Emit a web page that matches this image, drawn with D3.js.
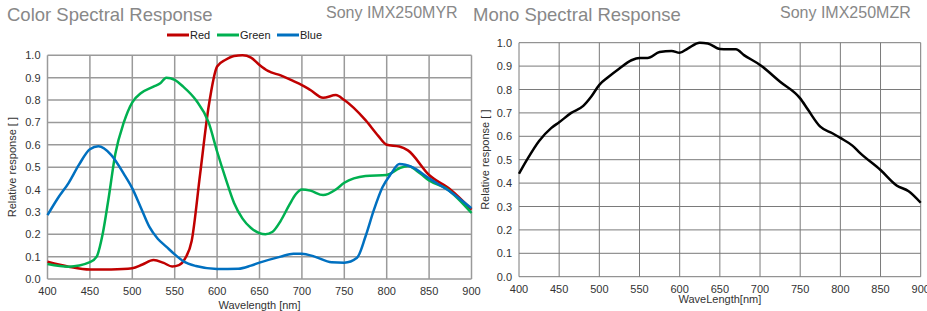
<!DOCTYPE html>
<html>
<head>
<meta charset="utf-8">
<script src="https://cdn.jsdelivr.net/npm/d3@7"></script>
<style>
  body { margin: 0; background: #fff; }
  svg { display: block; font-family: "Liberation Sans", Arial, sans-serif; }
</style>
</head>
<body>
<svg id="chart" width="927" height="311"></svg>
<script>
// wavelength ticks and response ticks
var xTicks = [400, 450, 500, 550, 600, 650, 700, 750, 800, 850, 900];
var yTicks = [0, 0.1, 0.2, 0.3, 0.4, 0.5, 0.6, 0.7, 0.8, 0.9, 1.0];

// color sensor (IMX250MYR)
var redData = [[400,0.077],[425,0.055],[450,0.042],[475,0.043],[500,0.048],[512,0.065],[525,0.085],[537,0.072],[547,0.056],[555,0.062],[562,0.09],[570,0.17],[580,0.47],[590,0.77],[600,0.95],[610,0.98],[620,0.997],[630,1.0],[640,0.99],[650,0.957],[660,0.93],[675,0.91],[690,0.885],[700,0.867],[710,0.845],[725,0.81],[740,0.822],[750,0.8],[775,0.71],[790,0.64],[800,0.6],[815,0.592],[825,0.575],[850,0.465],[875,0.4],[900,0.31]];
var greenData = [[400,0.067],[425,0.055],[450,0.075],[458,0.1],[465,0.2],[472,0.36],[480,0.56],[490,0.7],[500,0.79],[510,0.83],[525,0.86],[533,0.875],[540,0.9],[550,0.89],[560,0.86],[575,0.8],[590,0.7],[600,0.57],[610,0.45],[620,0.34],[630,0.27],[640,0.228],[650,0.205],[657,0.2],[665,0.21],[675,0.26],[685,0.33],[693,0.38],[700,0.4],[710,0.395],[725,0.375],[740,0.4],[750,0.43],[775,0.46],[800,0.465],[815,0.495],[825,0.505],[840,0.47],[850,0.44],[870,0.405],[900,0.295]];
var blueData = [[400,0.286],[412,0.36],[425,0.43],[437,0.51],[450,0.58],[460,0.593],[475,0.555],[490,0.47],[500,0.405],[510,0.32],[520,0.234],[530,0.18],[540,0.145],[550,0.11],[560,0.08],[575,0.058],[600,0.045],[625,0.046],[640,0.06],[650,0.073],[675,0.1],[690,0.113],[700,0.113],[715,0.1],[735,0.075],[750,0.073],[765,0.095],[775,0.19],[785,0.31],[795,0.41],[805,0.47],[815,0.514],[830,0.5],[850,0.45],[875,0.39],[900,0.316]];

// mono sensor (IMX250MZR)
var monoData = [[400,0.44],[410,0.5],[425,0.58],[440,0.635],[450,0.66],[465,0.7],[480,0.73],[490,0.77],[500,0.82],[510,0.85],[525,0.89],[540,0.925],[550,0.935],[560,0.935],[575,0.96],[590,0.965],[600,0.957],[610,0.975],[625,1.0],[635,0.997],[650,0.973],[660,0.972],[670,0.972],[680,0.947],[700,0.905],[725,0.833],[750,0.762],[760,0.712],[775,0.641],[790,0.613],[800,0.593],[815,0.56],[825,0.527],[850,0.456],[870,0.39],[885,0.365],[900,0.316]];

var seriesNames = ['Red', 'Green', 'Blue'];
var seriesColors = ['#c00000', '#00b050', '#0070c0'];

var svg = d3.select('#chart');

function drawPanel(opt) {
    var x = d3.scaleLinear().domain([400, 900]).range([opt.left, opt.right]);
    var y = d3.scaleLinear().domain([0, 1]).range([opt.bottom, opt.top]);
    var g = svg.append('g');

    g.selectAll('.vgrid').data(xTicks).enter().append('line')
        .attr('x1', function (d) { return x(d); }).attr('x2', function (d) { return x(d); })
        .attr('y1', y(0)).attr('y2', y(1))
        .attr('stroke', opt.gridColor).attr('stroke-width', opt.gridWidth);
    g.selectAll('.hgrid').data(yTicks).enter().append('line')
        .attr('y1', function (d) { return y(d); }).attr('y2', function (d) { return y(d); })
        .attr('x1', x(400)).attr('x2', x(900))
        .attr('stroke', opt.gridColor).attr('stroke-width', opt.gridWidth);

    g.selectAll('.ylab').data(yTicks).enter().append('text')
        .attr('x', x(400) - 7).attr('y', function (d) { return y(d) + 4; })
        .attr('text-anchor', 'end').attr('font-size', 11).attr('fill', '#333')
        .text(function (d) { return d.toFixed(1); });
    g.selectAll('.xlab').data(xTicks).enter().append('text')
        .attr('x', function (d) { return x(d); }).attr('y', y(0) + opt.xlabOff)
        .attr('text-anchor', 'middle').attr('font-size', 11).attr('fill', '#333')
        .text(function (d) { return d; });

    g.append('text')
        .attr('transform', 'translate(' + opt.yTitleX + ',' + ((y(0) + y(1)) / 2) + ') rotate(-90)')
        .attr('text-anchor', 'middle').attr('font-size', 11).attr('fill', '#333')
        .text('Relative response [ ]');
    g.append('text')
        .attr('x', (x(400) + x(900)) / 2).attr('y', opt.xTitleY)
        .attr('text-anchor', 'middle').attr('font-size', 11).attr('fill', '#333')
        .text(opt.xTitle);

    svg.append('text').attr('x', opt.titleX).attr('y', 21)
        .attr('font-size', 18.5).attr('fill', '#888').text(opt.title);
    svg.append('text').attr('x', opt.subX).attr('y', 18)
        .attr('font-size', 16).attr('fill', '#888').text(opt.sub);

    var line = d3.line()
        .x(function (d) { return x(d[0]); })
        .y(function (d) { return y(d[1]); })
        .curve(d3.curveMonotoneX);

    opt.series.forEach(function (s) {
        g.append('path').datum(s.data)
            .attr('d', line).attr('fill', 'none')
            .attr('stroke', s.color).attr('stroke-width', 2.5);
    });
    return g;
}

drawPanel({
    left: 47.5, right: 471.5, top: 55.3, bottom: 279,
    gridColor: '#9a9a9a', gridWidth: 1.5, xlabOff: 16, yTitleX: 16, xTitleY: 309,
    xTitle: 'Wavelength [nm]', title: 'Color Spectral Response', titleX: 7,
    sub: 'Sony IMX250MYR', subX: 326,
    series: [
        { data: redData, color: seriesColors[0] },
        { data: greenData, color: seriesColors[1] },
        { data: blueData, color: seriesColors[2] }
    ]
});

drawPanel({
    left: 519, right: 920.7, top: 42.7, bottom: 276.7,
    gridColor: '#7a7a7a', gridWidth: 1, xlabOff: 16, yTitleX: 489, xTitleY: 303,
    xTitle: 'WaveLength[nm]', title: 'Mono Spectral Response', titleX: 473,
    sub: 'Sony IMX250MZR', subX: 780,
    series: [{ data: monoData, color: '#000' }]
});

// legend of color panel
var legendX = [167, 217, 277];
var legend = svg.append('g');
seriesNames.forEach(function (name, i) {
    legend.append('line')
        .attr('x1', legendX[i]).attr('x2', legendX[i] + 22)
        .attr('y1', 35).attr('y2', 35)
        .attr('stroke', seriesColors[i]).attr('stroke-width', 3);
    legend.append('text')
        .attr('x', legendX[i] + 23).attr('y', 39)
        .attr('font-size', 11).attr('fill', '#222')
        .text(name);
});
</script>
</body>
</html>
